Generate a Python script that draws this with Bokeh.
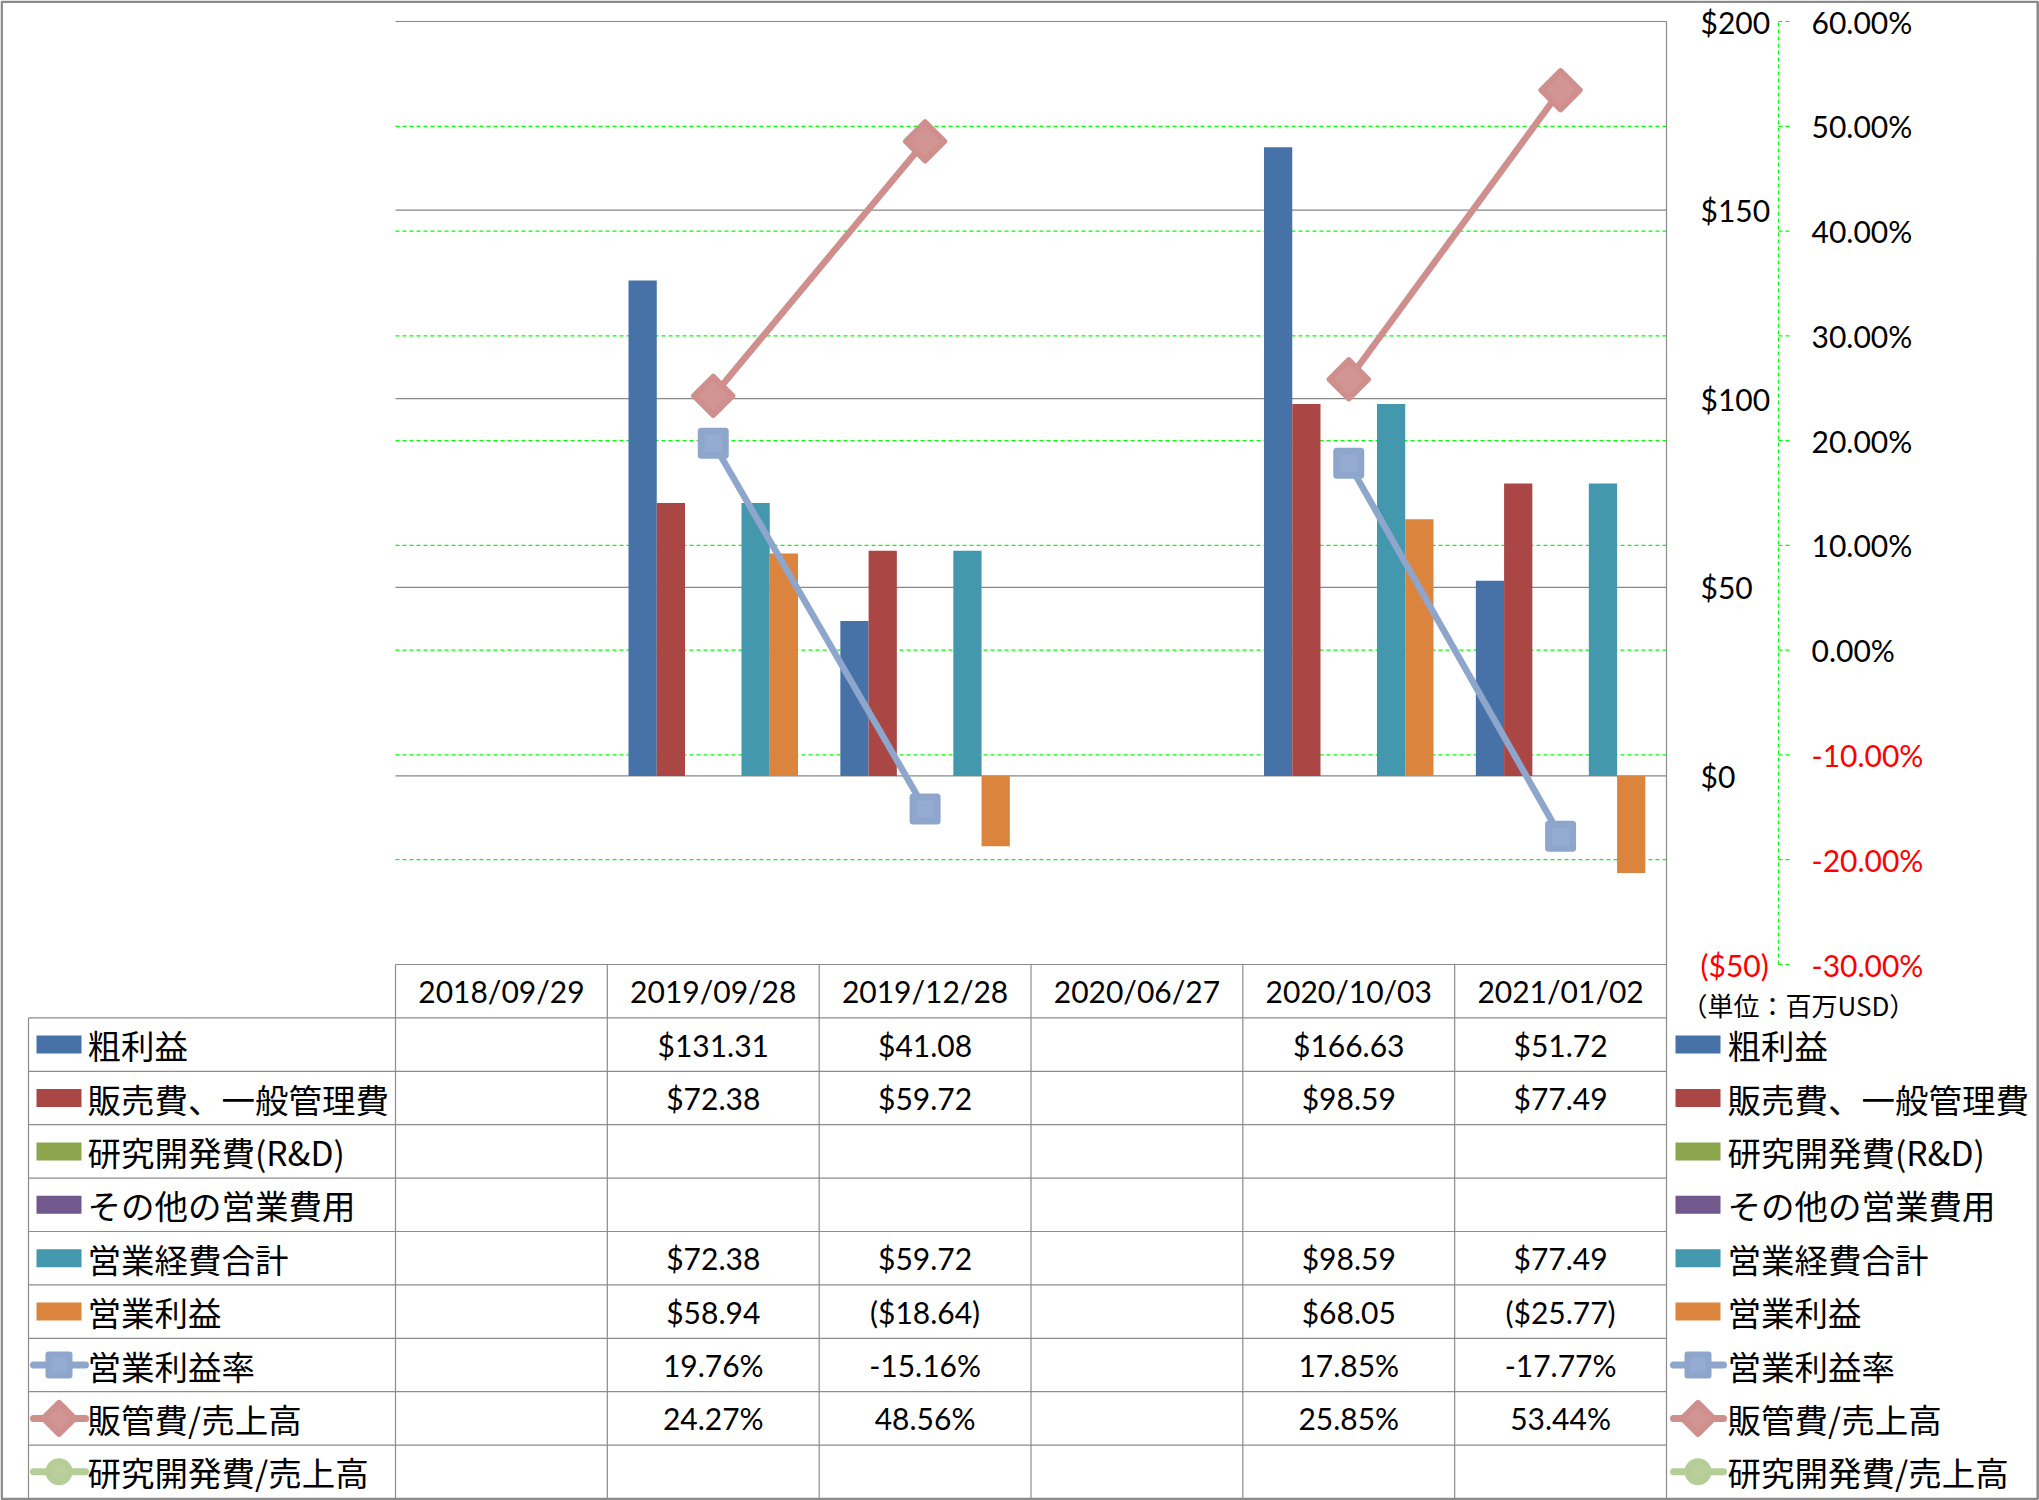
import math
from bokeh.plotting import figure
from bokeh.models import Range1d, ColumnDataSource
from bokeh.core.properties import value
from bokeh.embed import file_html
from bokeh.resources import INLINE

# ---------------- data ----------------
dates = ["2018/09/29", "2019/09/28", "2019/12/28", "2020/06/27", "2020/10/03", "2021/01/02"]
gross_profit = [None, 131.31, 41.08, None, 166.63, 51.72]
sga_expense = [None, 72.38, 59.72, None, 98.59, 77.49]
rnd_expense = [None, None, None, None, None, None]
other_opex = [None, None, None, None, None, None]
total_opex = [None, 72.38, 59.72, None, 98.59, 77.49]
operating_income = [None, 58.94, -18.64, None, 68.05, -25.77]
operating_margin = [None, 19.76, -15.16, None, 17.85, -17.77]
sga_to_sales = [None, 24.27, 48.56, None, 25.85, 53.44]
rnd_to_sales = [None, None, None, None, None, None]

usd_ticks = [200, 150, 100, 50, 0, -50]
usd_tick_labels = ["$200", "$150", "$100", "$50", "$0", "($50)"]
pct_ticks = [60, 50, 40, 30, 20, 10, 0, -10, -20, -30]
pct_tick_labels = ["60.00%", "50.00%", "40.00%", "30.00%", "20.00%", "10.00%",
                   "0.00%", "-10.00%", "-20.00%", "-30.00%"]
unit_label = "（単位：百万USD）"

bar_names = ["粗利益", "販売費、一般管理費", "研究開発費(R&D)", "その他の営業費用", "営業経費合計", "営業利益"]
bar_values = [gross_profit, sga_expense, rnd_expense, other_opex, total_opex, operating_income]
bar_colors = ["#4672A8", "#AA4644", "#8BA64C", "#71598E", "#4398AE", "#DB843D"]

line_names = ["営業利益率", "販管費/売上高", "研究開発費/売上高"]
line_values = [operating_margin, sga_to_sales, rnd_to_sales]
line_colors = ["#8EA6CC", "#CE8F8D", "#B5CD96"]
marker_fills = ["#96ABD1", "#D29594", "#BACF9C"]
marker_kinds = ["square", "diamond", "circle"]

# ---------------- layout constants ----------------
W, H = 2039, 1500
PLOT_L, PLOT_R, PLOT_T, PLOT_B = 395, 1666, 21, 964
ROW_H = 53.4
N = len(dates)
CW = (PLOT_R - PLOT_L) / N
USD_LO, USD_HI = usd_ticks[-1], usd_ticks[0]
PCT_LO, PCT_HI = pct_ticks[-1], pct_ticks[0]
USD_PPU = (PLOT_B - PLOT_T) / (USD_HI - USD_LO)
PCT_PPU = (PLOT_B - PLOT_T) / (PCT_HI - PCT_LO)

NUM_FONT = value("Lato")
JP_FONT = value("Noto Sans CJK JP")
GRID_GRAY = "#878787"
TABLE_GRAY = "#8C8C8C"

p = figure(width=W, height=H,
           x_range=Range1d(-PLOT_L / CW, (W - PLOT_L) / CW),
           y_range=Range1d(USD_LO - (H - PLOT_B) / USD_PPU, USD_HI + PLOT_T / USD_PPU),
           output_backend="svg", toolbar_location=None, title=None,
           x_axis_location=None, y_axis_location=None, min_border=0,
           outline_line_color=None, background_fill_color="white",
           border_fill_color="white")
p.grid.grid_line_color = None
p.grid.visible = False
p.extra_x_ranges = {"px": Range1d(0, W)}
p.extra_y_ranges = {
    "pct": Range1d(PCT_LO - (H - PLOT_B) / PCT_PPU, PCT_HI + PLOT_T / PCT_PPU),
    "tbl": Range1d(-(H - PLOT_B) / ROW_H, PLOT_B / ROW_H),
    "pxy": Range1d(H, 0),
}

# ---------------- gridlines ----------------
usd_grid = usd_ticks[:-1]
p.segment(x0=[0] * len(usd_grid), x1=[N] * len(usd_grid), y0=usd_grid, y1=usd_grid,
          line_color=GRID_GRAY, line_width=1.2)
pct_grid = pct_ticks[1:-1]
p.segment(x0=[0] * len(pct_grid), x1=[N] * len(pct_grid), y0=pct_grid, y1=pct_grid,
          y_range_name="pct", line_color="#00FF00", line_width=1.2, line_dash="4 3")

# ---------------- bars ----------------
NB = len(bar_values)
BAR_W = 1 / 7.5
for k, (vals, col) in enumerate(zip(bar_values, bar_colors)):
    off = -0.5 + 0.75 * BAR_W + (k + 0.5) * BAR_W
    xs = [i + 0.5 + off for i, v in enumerate(vals) if v is not None]
    ys = [v for v in vals if v is not None]
    if xs:
        p.vbar(x=xs, top=ys, bottom=0, width=BAR_W, fill_color=col, line_color=None)

# ---------------- lines ----------------
def draw_marker(x, y, kind, col, fill, xr="default", yr="default", big=True):
    kw = dict(x_range_name=xr, y_range_name=yr, line_color=col, fill_color=fill, line_join="round")
    if kind == "square":
        p.scatter(x, y, marker="square", size=24 if big else 21, line_width=7 if big else 6, **kw)
    elif kind == "diamond":
        p.scatter(x, y, marker="square", angle=math.pi / 4, size=27 if big else 22,
                  line_width=6, **kw)
    else:
        p.scatter(x, y, marker="circle", size=22 if big else 21, line_width=6, **kw)

for vals, col, fill, kind in zip(line_values, line_colors, marker_fills, marker_kinds):
    xs = [i + 0.5 for i in range(N)]
    ys = [float("nan") if v is None else v for v in vals]
    if all(v is None for v in vals):
        continue
    p.line(xs, ys, y_range_name="pct", line_color=col, line_width=6.5)
    mx = [i + 0.5 for i, v in enumerate(vals) if v is not None]
    my = [v for v in vals if v is not None]
    draw_marker(mx, my, kind, col, fill, yr="pct")

# ---------------- right-hand axes ----------------
AX_USD_X = 1700
AX_PCT_LINE = 1778
AX_PCT_TICK = 1789
AX_PCT_LBL = 1811
usd_src = ColumnDataSource(dict(
    x=[AX_USD_X] * len(usd_ticks), y=usd_ticks, t=usd_tick_labels,
    c=["#FF0000" if v < 0 else "#000000" for v in usd_ticks]))
p.text(x="x", y="y", text="t", source=usd_src, x_range_name="px",
       text_color="c", text_font=NUM_FONT, text_font_size=value("30px"),
       text_align="left", text_baseline="middle")
p.segment(x0=[AX_PCT_LINE], x1=[AX_PCT_LINE], y0=[PCT_LO], y1=[PCT_HI],
          x_range_name="px", y_range_name="pct",
          line_color="#00FF00", line_width=1.2, line_dash="4 3")
p.segment(x0=[AX_PCT_LINE] * len(pct_ticks), x1=[AX_PCT_TICK] * len(pct_ticks),
          y0=pct_ticks, y1=pct_ticks, x_range_name="px", y_range_name="pct",
          line_color="#00FF00", line_width=1.2, line_dash="4 3")
pct_src = ColumnDataSource(dict(
    x=[AX_PCT_LBL] * len(pct_ticks), y=pct_ticks, t=pct_tick_labels,
    c=["#FF0000" if v < 0 else "#000000" for v in pct_ticks]))
p.text(x="x", y="y", text="t", source=pct_src, x_range_name="px", y_range_name="pct",
       text_color="c", text_font=NUM_FONT, text_font_size=value("30px"),
       text_align="left", text_baseline="middle")
p.text(x=[1681], y=[1004], text=[unit_label], x_range_name="px", y_range_name="pxy",
       text_color="#000000", text_font=JP_FONT, text_font_size=value("26px"),
       text_align="left", text_baseline="middle")

# ---------------- data table ----------------
NROWS = len(bar_names) + len(line_names)
# horizontal lines
p.segment(x0=[0], x1=[N], y0=[0], y1=[0], y_range_name="tbl",
          line_color=TABLE_GRAY, line_width=1.2)
row_lines = [-(k + 1) for k in range(NROWS)]
p.segment(x0=[28] * NROWS, x1=[PLOT_R] * NROWS, y0=row_lines, y1=row_lines,
          x_range_name="px", y_range_name="tbl", line_color=TABLE_GRAY, line_width=1.2)
# vertical lines
cols = list(range(N))
p.segment(x0=cols, x1=cols, y0=[0] * N, y1=[-NROWS - 1] * N, y_range_name="tbl",
          line_color=TABLE_GRAY, line_width=1.2)
p.segment(x0=[PLOT_R], x1=[PLOT_R], y0=[PLOT_T], y1=[H], x_range_name="px",
          y_range_name="pxy", line_color=TABLE_GRAY, line_width=1.2)
p.segment(x0=[28], x1=[28], y0=[-1], y1=[-NROWS - 1], x_range_name="px",
          y_range_name="tbl", line_color=TABLE_GRAY, line_width=1.2)

# header (category labels)
p.text(x=[i + 0.5 for i in range(N)], y=[-0.5] * N, text=dates, y_range_name="tbl",
       text_font=NUM_FONT, text_font_size=value("30px"), text_color="#000000",
       text_align="center", text_baseline="middle")


def fmt_usd(v):
    if v is None:
        return ""
    return f"${v:,.2f}" if v >= 0 else f"(${-v:,.2f})"


def fmt_pct(v):
    return "" if v is None else f"{v:.2f}%"


cx, cy, ct = [], [], []
for k, vals in enumerate(bar_values):
    for i, v in enumerate(vals):
        if v is not None:
            cx.append(i + 0.5); cy.append(-(k + 1.5)); ct.append(fmt_usd(v))
for j, vals in enumerate(line_values):
    k = NB + j
    for i, v in enumerate(vals):
        if v is not None:
            cx.append(i + 0.5); cy.append(-(k + 1.5)); ct.append(fmt_pct(v))
p.text(x=cx, y=cy, text=ct, y_range_name="tbl", text_font=NUM_FONT,
       text_font_size=value("30px"), text_color="#000000",
       text_align="center", text_baseline="middle")

# ---------------- legend keys (table left column and right side) ----------------
all_names = bar_names + line_names
row_y = [-(k + 1.5) for k in range(NROWS)]
for (sw_x, ln0, ln1, txt_x) in [(58.5, 33, 85, 87), (1697.5, 1673, 1723, 1727)]:
    p.rect(x=[sw_x] * NB, y=row_y[:NB], width=45, height=18, height_units="screen",
           x_range_name="px", y_range_name="tbl", fill_color=bar_colors, line_color=None)
    for j, (col, fill, kind) in enumerate(zip(line_colors, marker_fills, marker_kinds)):
        yy = row_y[NB + j]
        p.segment(x0=[ln0], x1=[ln1], y0=[yy], y1=[yy], x_range_name="px",
                  y_range_name="tbl", line_color=col, line_width=7, line_cap="round")
        draw_marker([sw_x], [yy], kind, col, fill, xr="px", yr="tbl", big=False)
    p.text(x=[txt_x] * NROWS, y=row_y, text=all_names, x_range_name="px",
           y_range_name="tbl", text_font=JP_FONT, text_font_size=value("33.5px"),
           text_color="#000000", text_align="left", text_baseline="middle")

# ---------------- outer frame ----------------
p.quad(left=[1.2], right=[W - 1.8], top=[1.2], bottom=[H - 1.6], x_range_name="px",
       y_range_name="pxy", fill_color=None, line_color="#8A8A8A", line_width=2.5)

open("out.html", "w").write(file_html(p, INLINE))
